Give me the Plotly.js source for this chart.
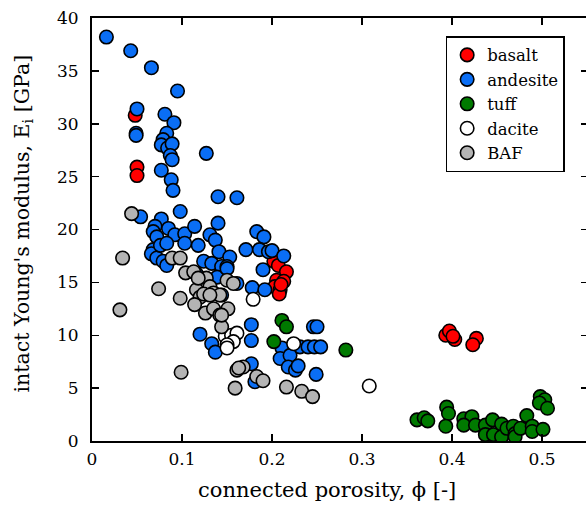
<!DOCTYPE html>
<html>
<head>
<meta charset="utf-8">
<script src="https://cdn.plot.ly/plotly-3.0.1.min.js"></script>
<style>
html,body{margin:0;padding:0;overflow:hidden;background:#fff;}
#chart{width:588px;height:514px;}
</style>
</head>
<body>
<div id="chart"></div>
<script>
// ---- data (connected porosity [-], intact Young's modulus [GPa]) ----
const basaltX = [0.048,0.050,0.050,0.202,0.207,0.216,0.205,0.213,0.203,0.209,0.208,0.210,0.393,0.397,0.403,0.401,0.427,0.423];
const basaltY = [30.8,25.9,25.1,17.0,16.6,16.0,15.2,15.1,14.6,14.3,13.9,14.8,10.0,10.4,9.6,9.9,9.7,9.1];

const andesiteX = [0.016,0.043,0.066,0.095,0.050,0.081,0.091,0.049,0.049,0.083,0.079,0.077,0.084,0.089,0.087,0.089,0.127,0.077,0.088,0.090,0.140,0.161,
  0.054,0.098,0.077,0.070,0.068,0.072,0.085,0.092,0.103,0.103,0.068,0.066,0.072,0.079,0.083,0.076,0.083,
  0.140,0.114,0.183,0.191,0.131,0.137,0.118,0.171,0.186,0.141,0.153,0.196,0.200,0.213,0.124,0.133,0.144,0.150,0.190,
  0.116,0.139,0.161,0.144,0.178,0.192,0.150,
  0.177,0.177,0.120,0.133,0.137,0.177,0.181,0.246,0.250,0.211,0.231,0.240,0.247,0.254,0.209,0.220,0.218,0.226,0.229,0.249];
const andesiteY = [38.2,36.9,35.3,33.1,31.4,30.9,30.1,29.1,28.9,29.1,28.5,28.0,27.7,28.1,27.0,26.6,27.2,25.6,24.7,23.7,23.1,23.0,
  21.2,21.7,21.0,20.3,19.8,19.3,20.1,19.5,19.6,18.7,18.1,17.7,17.3,17.0,16.6,18.5,18.7,
  20.6,20.3,19.8,19.3,19.5,19.0,18.5,18.1,18.1,17.9,17.4,17.9,18.0,17.5,17.0,16.8,16.5,16.5,16.2,
  15.8,15.5,14.9,13.8,14.5,14.3,16.3,
  11.0,9.5,10.1,9.2,8.4,7.3,5.6,10.8,10.8,8.8,8.9,8.9,8.9,8.9,7.8,8.1,7.0,6.7,7.1,6.3];

const tuffX = [0.211,0.216,0.202,0.282,0.361,0.369,0.373,0.394,0.396,0.393,0.413,0.422,0.413,0.426,0.437,0.445,0.437,0.446,
  0.455,0.455,0.461,0.468,0.470,0.470,0.476,0.483,0.489,0.489,0.501,0.498,0.503,0.497,0.506];
const tuffY = [11.4,10.8,9.4,8.6,2.0,2.2,1.9,3.2,2.6,1.4,2.1,2.3,1.5,1.5,1.5,2.0,0.6,0.6,
  1.6,0.4,1.2,1.4,0.7,0.4,1.2,2.4,1.4,0.9,1.1,4.2,3.9,3.6,3.1];

const daciteX = [0.148,0.155,0.161,0.157,0.150,0.150,0.179,0.224,0.308];
const daciteY = [9.9,10.0,10.2,9.4,9.1,8.8,13.4,9.2,5.2];

const bafX = [0.044,0.034,0.089,0.098,0.104,0.074,0.031,0.098,0.099,
  0.116,0.120,0.127,0.131,0.135,0.142,0.150,0.114,0.126,0.135,0.142,0.151,0.144,0.124,0.131,0.113,0.118,0.157,
  0.161,0.168,0.183,0.190,0.159,0.216,0.233,0.245,0.163,0.144];
const bafY = [21.5,17.3,17.3,17.3,15.9,14.4,12.4,13.5,6.5,
  14.3,13.6,15.4,14.6,14.0,13.8,15.2,12.9,12.1,12.5,11.9,12.5,10.8,13.9,13.8,16.0,15.4,14.9,
  6.7,7.0,6.1,5.7,5.0,5.1,4.7,4.2,6.9,11.9];

const seriesNames = ['basalt','andesite','tuff','dacite','BAF'];
const seriesColors = ['#ff0000','#0a6ef5','#007a00','#ffffff','#b4b4b4'];
const xTickVals = [0,0.1,0.2,0.3,0.4,0.5];
const xTickText = ['0','0.1','0.2','0.3','0.4','0.5'];
const yTickVals = [0,5,10,15,20,25,30,35,40];
const xTitle = 'connected porosity, ϕ [-]';
const yTitle = "intact Young's modulus, E<sub>i</sub> [GPa]";

const xs = [basaltX, andesiteX, tuffX, daciteX, bafX];
const ys = [basaltY, andesiteY, tuffY, daciteY, bafY];

const FONT = 'DejaVu Serif, Liberation Serif, serif';

const traces = seriesNames.map((n, i) => ({
  type: 'scatter', mode: 'markers', name: n,
  x: xs[i], y: ys[i],
  marker: {size: 13.5, color: seriesColors[i], line: {color: '#000', width: 1.6}}
}));

const axisCommon = {
  showline: true, linecolor: '#000', linewidth: 2,
  ticks: 'inside', ticklen: 7, tickwidth: 1.5, tickcolor: '#000',
  mirror: 'ticks', showgrid: false, zeroline: false,
  tickfont: {family: FONT, size: 17, color: '#000'}
};

const layout = {
  width: 588, height: 514,
  margin: {l: 92, r: 0, t: 18, b: 73},
  paper_bgcolor: '#fff', plot_bgcolor: '#fff',
  showlegend: true,
  legend: {
    x: 0.713, y: 0.957, xanchor: 'left', yanchor: 'top',
    bordercolor: '#000', borderwidth: 1.5, bgcolor: '#fff',
    font: {family: FONT, size: 16.5, color: '#000'},
    tracegroupgap: 0
  },
  xaxis: Object.assign({}, axisCommon, {
    range: [0, 0.551], tickvals: xTickVals, ticktext: xTickText, ticklabelstandoff: 2
  }),
  yaxis: Object.assign({}, axisCommon, {
    range: [0, 40], tickvals: yTickVals, ticklabelstandoff: 8
  }),
  annotations: [
    {text: xTitle, xref: 'paper', yref: 'paper', x: 0.474, y: -0.116,
     xanchor: 'center', yanchor: 'middle', showarrow: false,
     font: {family: FONT, size: 21, color: '#000'}},
    {text: yTitle, xref: 'paper', yref: 'paper', x: -0.14, y: 0.513,
     xanchor: 'center', yanchor: 'middle', showarrow: false, textangle: -90,
     font: {family: FONT, size: 20.5, color: '#000'}}
  ]
};

Plotly.newPlot('chart', traces, layout, {displayModeBar: false, staticPlot: true});
</script>
</body>
</html>
